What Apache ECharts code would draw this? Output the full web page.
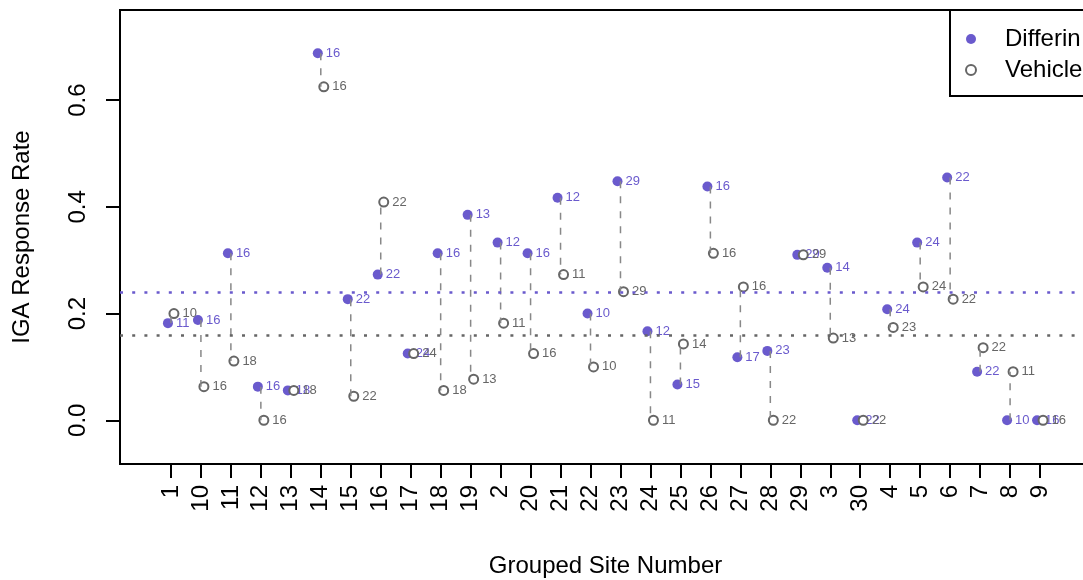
<!DOCTYPE html>
<html>
<head>
<meta charset="utf-8">
<script src="https://cdn.jsdelivr.net/npm/echarts@6/dist/echarts.min.js"></script>
<style>
html,body{margin:0;padding:0;background:#fff;}
#chart{width:1083px;height:580px;}
</style>
</head>
<body>
<div id="chart"></div>
<script>
// ---- data ----
const sites = ["1","10","11","12","13","14","15","16","17","18","19","2","20","21","22","23","24","25","26","27","28","29","3","30","4","5","6","7","8","9"];
const differinRate = [0.182,0.188,0.313,0.063,0.056,0.688,0.227,0.273,0.125,0.313,0.385,0.333,0.313,0.417,0.200,0.448,0.167,0.067,0.438,0.118,0.130,0.310,0.286,0.000,0.208,0.333,0.455,0.091,0.000,0.000];
const vehicleRate  = [0.200,0.063,0.111,0.000,0.056,0.625,0.045,0.409,0.125,0.056,0.077,0.182,0.125,0.273,0.100,0.241,0.000,0.143,0.313,0.250,0.000,0.310,0.154,0.000,0.174,0.250,0.227,0.136,0.091,0.000];
const differinN = [11,16,16,16,18,16,22,22,24,16,13,12,16,12,10,29,12,15,16,17,23,29,14,22,24,24,22,22,10,16];
const vehicleN  = [10,16,18,16,18,16,22,22,24,18,13,11,16,11,10,29,11,14,16,16,22,29,13,22,23,24,22,22,11,16];
const yTicks = [0, 0.2, 0.4, 0.6];
const differinMean = 0.241;
const vehicleMean = 0.164;

// ---- styling ----
const FONT = "'Liberation Sans', Arial, Helvetica, sans-serif";
const PURPLE = '#6A5ACD';
const GREY = '#666666';
const siteIdx = sites.map((s, i) => i + 1);

const differinData = sites.map((s, i) => [i + 1 - 0.1, differinRate[i], differinN[i]]);
const vehicleData = sites.map((s, i) => [i + 1 + 0.1, vehicleRate[i], vehicleN[i]]);
const segData = sites.map((s, i) => [i + 1, differinRate[i], vehicleRate[i]]);

const chart = echarts.init(document.getElementById('chart'), null, {renderer: 'canvas'});
chart.setOption({
  animation: false,
  backgroundColor: '#fff',
  textStyle: {fontFamily: FONT},
  grid: {left: 120, top: 10, width: 971, height: 454, outerBoundsMode: 'none', containLabel: false,
    show: true, borderColor: '#000', borderWidth: 2, backgroundColor: 'transparent'},
  legend: {
    left: 950, top: 10, orient: 'vertical',
    itemWidth: 22, itemHeight: 10, itemGap: 7,
    padding: [17, 40, 14, 15],
    borderColor: '#000', borderWidth: 2, borderRadius: 0, backgroundColor: '#fff',
    textStyle: {fontSize: 24, color: '#000', lineHeight: 24, fontFamily: FONT, padding: [0, 0, 0, 18]},
    data: [
      {name: 'Differin', icon: 'circle'},
      {name: 'Vehicle', icon: 'emptyCircle'}
    ]
  },
  xAxis: {
    type: 'value', min: -0.7, max: 31.7,
    axisLine: {show: false, onZero: false}, splitLine: {show: false},
    axisTick: {show: true, customValues: siteIdx, length: 14, lineStyle: {color: '#000', width: 2}},
    axisLabel: {customValues: siteIdx, formatter: v => sites[Math.round(v) - 1], rotate: 90, fontSize: 24, color: '#000', margin: 21, fontFamily: FONT},
    name: 'Grouped Site Number', nameLocation: 'middle', nameGap: 90,
    nameTextStyle: {fontSize: 24, color: '#000', fontFamily: FONT}
  },
  yAxis: {
    type: 'value', min: -0.082, max: 0.769,
    axisLine: {show: false, onZero: false}, splitLine: {show: false},
    axisTick: {show: true, customValues: yTicks, length: 14, lineStyle: {color: '#000', width: 2}},
    axisLabel: {customValues: yTicks, formatter: v => v.toFixed(1), rotate: 90, fontSize: 24, color: '#000', margin: 30, fontFamily: FONT},
    name: 'IGA Response Rate', nameLocation: 'middle', nameGap: 86,
    nameTextStyle: {fontSize: 24, color: '#000', fontFamily: FONT}
  },
  series: [
    {
      name: 'ref', type: 'scatter', data: [], z: 1, silent: true,
      markLine: {
        silent: true, symbol: ['none', 'none'], label: {show: false},
        lineStyle: {type: [3, 9.2], width: 2.7},
        data: [
          {yAxis: differinMean, lineStyle: {color: PURPLE}},
          {yAxis: vehicleMean, lineStyle: {color: GREY}}
        ]
      }
    },
    {
      name: 'Differin', type: 'scatter', z: 2, data: differinData,
      symbol: 'circle', symbolSize: 10,
      itemStyle: {color: PURPLE, opacity: 1},
      label: {show: true, position: 'right', distance: 3, formatter: p => String(p.value[2]), color: PURPLE, fontSize: 13, fontFamily: FONT},
      emphasis: {disabled: true}
    },
    {
      name: 'Vehicle', type: 'scatter', z: 3, data: vehicleData,
      symbol: 'emptyCircle', symbolSize: 9,
      itemStyle: {color: GREY, borderColor: GREY, borderWidth: 1.4, opacity: 1},
      label: {show: true, position: 'right', distance: 3, formatter: p => String(p.value[2]), color: GREY, fontSize: 13, fontFamily: FONT},
      emphasis: {disabled: true}
    },
    {
      name: 'segments', type: 'custom', z: 4, data: segData, silent: true,
      encode: {x: 0, y: [1, 2]},
      renderItem: function (params, api) {
        const i = api.value(0);
        const p1 = api.coord([i, api.value(1)]);
        const p2 = api.coord([i, api.value(2)]);
        return {type: 'line', shape: {x1: p1[0], y1: p1[1], x2: p2[0], y2: p2[1]},
          style: {stroke: '#888888', lineWidth: 1.5, lineDash: [7, 8]}};
      }
    }
  ]
});
</script>
</body>
</html>
